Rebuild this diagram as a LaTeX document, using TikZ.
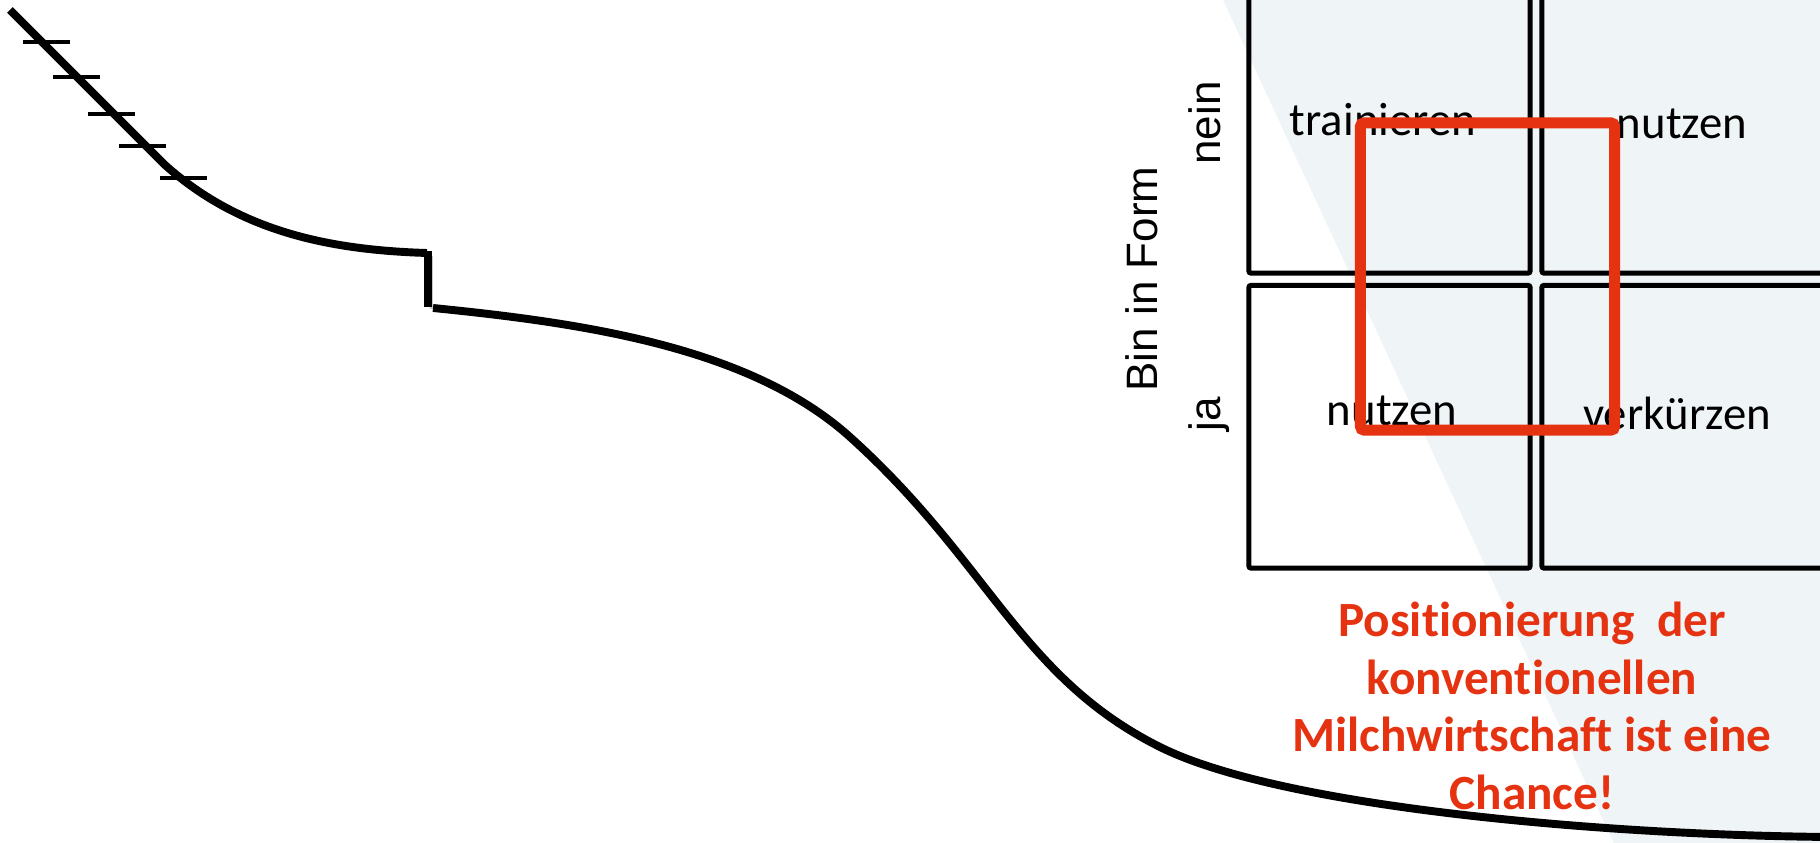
\documentclass[tikz,border=0pt]{standalone}
\usepackage{fontspec}
\setmainfont{Carlito}[Ligatures=NoCommon]
\newfontfamily\axisfont{Liberation Sans}
\definecolor{chancered}{RGB}{229,51,18}
\definecolor{paleblue}{RGB}{239,244,247}
\tikzset{
  curve/.style={line width=2.25pt, line join=round},
  tickmark/.style={line width=1.3pt},
  cell/.style={draw, line width=1.45pt, rounded corners=0.6pt, inner sep=0pt},
  celltext/.style={anchor=base, inner sep=0pt, font=\fontsize{13.3}{16}\selectfont},
  axislabel/.style={anchor=base, rotate=90, inner sep=0pt, font=\axisfont\fontsize{12.5}{15}\selectfont},
  frame/.style={draw=chancered, line width=3.1pt, rounded corners=1pt, inner sep=0pt},
}
\begin{document}
\begin{tikzpicture}[x=0.01cm, y=-0.01cm]
       \useasboundingbox (0,0) rectangle (1820,843);
       \clip (0,0) rectangle (1820,843);
       \fill[paleblue] (1223,0) -- (1830,0) -- (1830,850) -- (1617,850) -- cycle;
       % decline curve
       \draw[curve] (10,10) -- (165,165) .. controls (240,232) and (330,250) .. (427,253);
       \draw[gray!45, line width=1pt] (431.5,256) -- (431.5,309);
       \draw[line width=2.4pt] (428,251) -- (428,307);
       \draw[curve] (433,308) .. controls (583,323) and (750,347) .. (850,437)
         .. controls (990,563) and (1020,677) .. (1160,747)
         .. controls (1280,807) and (1600,835) .. (1830,837);
       \foreach \x/\y in {23/42, 53/77, 88/114, 119/146, 160/178}
         \draw[tickmark] (\x,\y) -- ++(47,0);
       % matrix
       \node[cell, minimum width=2.81cm, minimum height=2.88cm] (tl) at (1389.5,129) {};
       \node[cell, minimum width=2.88cm, minimum height=2.88cm] (tr) at (1686,129) {};
       \node[cell, minimum width=2.81cm, minimum height=2.825cm] (bl) at (1389.5,426.75) {};
       \node[cell, minimum width=2.88cm, minimum height=2.825cm] (br) at (1686,426.75) {};
       \node[celltext] (tltext) at (1383,136) {trainieren};
       \node[celltext] (trtext) at (1682,139) {nutzen};
       \node[celltext] (bltext) at (1392,426) {nutzen};
       \node[celltext] (brtext) at (1677,430) {verkürzen};
       \node[axislabel] (form) at (1157,279) {Bin in Form};
       \node[axislabel] (nein) at (1220,123) {nein};
       \node[axislabel] (ja) at (1220,414) {ja};
       \node[frame, minimum width=2.54cm, minimum height=3.07cm] (chance) at (1487.5,276.5) {};
       \node[align=center, inner sep=0pt, text=chancered, font=\bfseries\fontsize{14}{16.4}\selectfont] (message) at (1532,706)
         {Positionierung~ der\\konventionellen\\Milchwirtschaft ist eine\\Chance!};
     \end{tikzpicture}
\end{document}
